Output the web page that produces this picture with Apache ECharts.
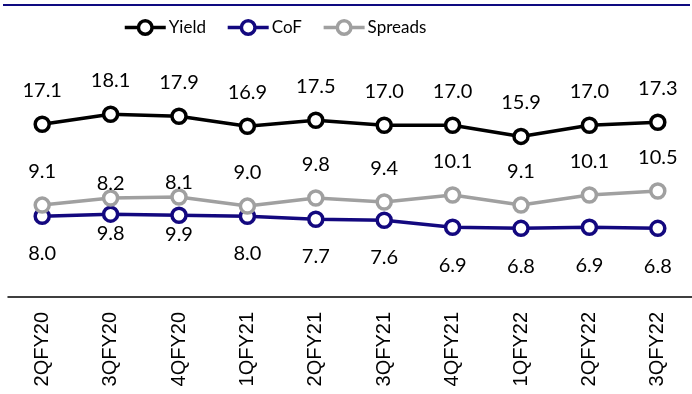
<!DOCTYPE html>
<html>
<head>
<meta charset="utf-8">
<script src="https://cdn.jsdelivr.net/npm/echarts@6/dist/echarts.min.js"></script>
<style>
  html, body { margin: 0; padding: 0; background: #fff; }
  #chart { width: 692px; height: 394px; }
</style>
</head>
<body>
<div id="chart"></div>
<script>
const categories = ['2QFY20', '3QFY20', '4QFY20', '1QFY21', '2QFY21', '3QFY21', '4QFY21', '1QFY22', '2QFY22', '3QFY22'];
const yieldValues = [17.1, 18.1, 17.9, 16.9, 17.5, 17.0, 17.0, 15.9, 17.0, 17.3];
const cofValues = [8.0, 8.2, 8.1, 8.0, 7.7, 7.6, 6.9, 6.8, 6.9, 6.8];
const spreadValues = [9.1, 9.8, 9.9, 9.0, 9.8, 9.4, 10.1, 9.1, 10.1, 10.5];
const cofLabels = ['8.0', '9.8', '9.9', '8.0', '7.7', '7.6', '6.9', '6.8', '6.9', '6.8'];
const spreadLabels = ['9.1', '8.2', '8.1', '9.0', '9.8', '9.4', '10.1', '9.1', '10.1', '10.5'];
const seriesNames = ['Yield', 'CoF', 'Spreads'];

const FONT = 'Lato';
const closeLabelIdx = [1, 2];

function items(values, labels, dist, closeDist) {
  return values.map((v, i) => {
    const lab = { formatter: labels ? labels[i] : v.toFixed(1), distance: dist };
    if (closeLabelIdx.includes(i) && closeDist !== undefined) lab.distance = closeDist;
    return { value: v, label: lab };
  });
}

function lineSeries(name, color, data, pos) {
  return {
    name: name,
    type: 'line',
    data: data,
    symbol: 'circle',
    symbolSize: 14,
    clip: false,
    lineStyle: { color: color, width: 3.5 },
    itemStyle: { color: '#fff', borderColor: color, borderWidth: 3.5 },
    label: { show: true, position: pos, color: '#000', fontFamily: FONT, fontSize: 20 },
    emphasis: { disabled: true },
    animation: false
  };
}

const chart = echarts.init(document.getElementById('chart'), null, { renderer: 'canvas' });
chart.setOption({
  backgroundColor: '#fff',
  animation: false,
  legend: {
    data: seriesNames,
    left: 118,
    top: 14,
    itemWidth: 41,
    itemHeight: 17,
    itemGap: 20,
    lineStyle: { width: 3.5 },
    itemStyle: { borderWidth: 3.5 },
    textStyle: { fontFamily: FONT, fontSize: 17, color: '#000', padding: [0, 0, 0, -2] }
  },
  graphic: [{
    type: 'line',
    shape: { x1: 3, y1: 5, x2: 690, y2: 5 },
    style: { stroke: '#0E0A80', lineWidth: 2 }
  }],
  grid: { left: 8, top: 44.5, width: 698, height: 252.5 },
  xAxis: {
    type: 'category',
    data: categories,
    boundaryGap: true,
    axisLine: { lineStyle: { color: '#000', width: 1.5 } },
    axisTick: { show: false },
    axisLabel: {
      interval: 0,
      rotate: 90,
      margin: 15,
      fontFamily: 'Liberation Sans',
      fontSize: 20,
      color: '#000',
      verticalAlign: 'middle',
      padding: [0, 0, 12, 0]
    }
  },
  yAxis: {
    type: 'value',
    min: 0,
    max: 25,
    show: false,
    splitLine: { show: false }
  },
  series: [
    lineSeries('Yield', '#000000', items(yieldValues, null, 15), 'top'),
    lineSeries('CoF', '#13087F', items(cofValues, cofLabels, 19, 1), 'bottom'),
    lineSeries('Spreads', '#A0A0A0', items(spreadValues, spreadLabels, 15, -4), 'top')
  ]
});
</script>
</body>
</html>
